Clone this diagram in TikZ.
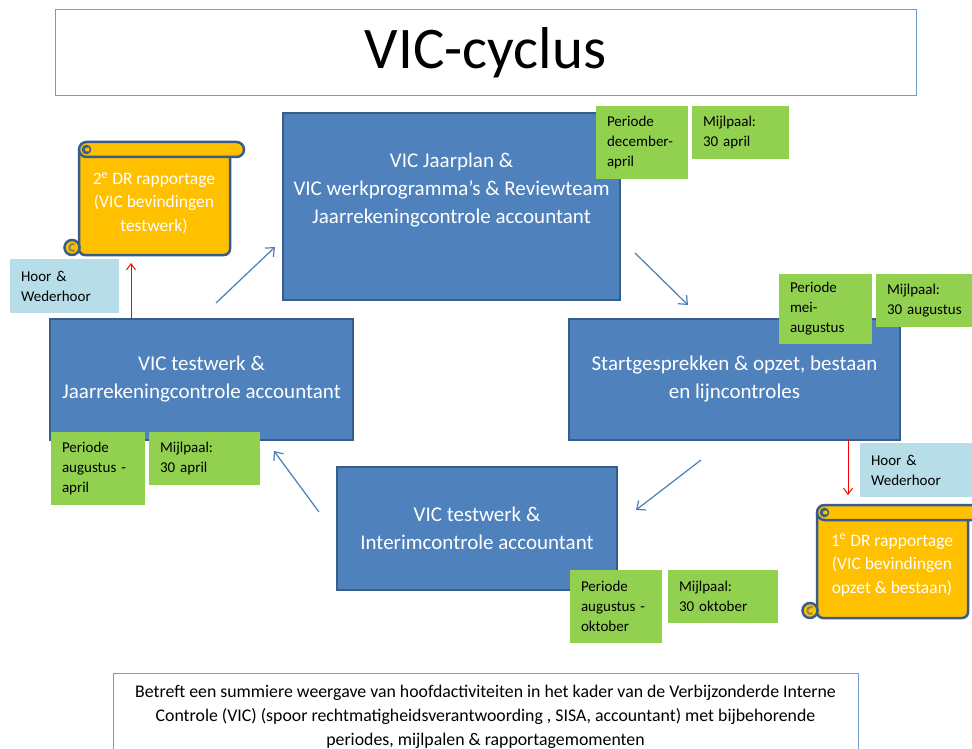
\documentclass[tikz,border=0pt]{standalone}
\usepackage{fontspec}
\setmainfont{Carlito}
\usepackage{tikz}
\usetikzlibrary{arrows.meta,positioning,calc}
\definecolor{blokblauw}{HTML}{4F81BD}
\definecolor{randblauw}{HTML}{385D8A}
\definecolor{pijlblauw}{HTML}{4A7EBB}
\definecolor{groen}{HTML}{92D050}
\definecolor{lichtblauw}{HTML}{B7DEE8}
\definecolor{oranje}{HTML}{FFC000}

\begin{document}
\begin{tikzpicture}
[x=1pt,y=-1pt,
every node/.style={inner sep=0pt,outer sep=0pt},
blok/.style={draw=randblauw,fill=blokblauw,line width=2.5pt,anchor=north west,text=white,align=center,font=\fontsize{21}{28}\selectfont},
groenvak/.style={fill=groen,anchor=north west,align=left,inner xsep=11pt,font=\fontsize{15}{20}\selectfont},
hoorvak/.style={fill=lichtblauw,anchor=north west,align=left,inner xsep=11pt,font=\fontsize{15}{20}\selectfont},
rolvak/.style={text=white,align=center,font=\fontsize{17.5}{23.5}\selectfont},
kader/.style={draw=blokblauw!80,line width=1pt,anchor=north west},
pijl/.style={draw=pijlblauw,line width=1.2pt,-{Straight Barb[length=7pt,width=12pt]}},
rood/.style={draw=red,line width=1pt,-{Straight Barb[length=6pt,width=9pt]}},
pics/rol/.style={code={
  \filldraw[fill=oranje,draw=randblauw,line width=2.5pt,rounded corners=6pt] (0,8) -- (0,113) -- (151,113) -- (151,15);
  \filldraw[fill=oranje,draw=randblauw,line width=2.5pt,rounded corners=7.5pt] (0,0) rectangle (165,15);
  \filldraw[fill=oranje,draw=randblauw,line width=1.5pt] (7.5,7.5) circle[radius=4pt];
  \draw[randblauw,line width=1.5pt] (9.5,5) arc[start angle=60,end angle=300,radius=3pt];
  \filldraw[fill=oranje,draw=randblauw,line width=2.5pt] (-7,105.5) circle[radius=7.5pt];
  \draw[randblauw!60!oranje,line width=2pt] (-4.5,102.5) arc[start angle=60,end angle=300,radius=3.5pt];
}}]
\clip (0,0) rectangle (972,749);
\fill[white] (0,0) rectangle (972,749);

% titel
\node[kader,minimum width=861pt,minimum height=86pt,font=\fontsize{59}{60}\selectfont] (titel) at (55,10) {VIC-cyclus};

% blokken van de cyclus
\node[blok,minimum width=337pt,minimum height=187pt] (jaarplan) at (283,113) {};
\node[rolvak,font=\fontsize{21}{28}\selectfont] (jaarplantekst) at ($(jaarplan.center)+(0,-16)$)
  {VIC Jaarplan \&\\VIC werkprogramma’s \& Reviewteam\\Jaarrekeningcontrole accountant};
\node[blok,minimum width=331pt,minimum height=121pt] (startgesprek) at (569,319)
  {Startgesprekken \& opzet, bestaan\\en lijncontroles};
\node[blok,minimum width=280pt,minimum height=123pt] (interim) at (337,467)
  {VIC testwerk \&\\Interimcontrole accountant};
\node[blok,minimum width=303pt,minimum height=121pt] (testwerk) at (50,319)
  {VIC testwerk \&\\Jaarrekeningcontrole accountant};

% periodes en mijlpalen
\node[groenvak,text width=70pt,minimum height=73pt] (periode1) at (596,106) {Periode\\december-\\april};
\node[groenvak,text width=75pt,minimum height=53pt] (mijlpaal1) at (692,106) {Mijlpaal:\\30 april};
\node[groenvak,text width=71pt,minimum height=70pt] (periode2) at (779,274) {Periode\\mei-\\augustus};
\node[groenvak,text width=80pt,minimum height=53pt] (mijlpaal2) at (876,274) {Mijlpaal:\\30 augustus};
\node[groenvak,text width=70pt,minimum height=73pt] (periode3) at (570,570) {Periode\\augustus -\\oktober};
\node[groenvak,text width=88pt,minimum height=53pt] (mijlpaal3) at (668,570) {Mijlpaal:\\30 oktober};
\node[groenvak,text width=72pt,minimum height=73pt] (periode4) at (51,432) {Periode\\augustus -\\april};
\node[groenvak,text width=89pt,minimum height=53pt] (mijlpaal4) at (149,432) {Mijlpaal:\\30 april};

% hoor en wederhoor
\node[hoorvak,text width=87pt,minimum height=54pt] (hoor2) at (10,259) {Hoor \&\\Wederhoor};
\node[hoorvak,text width=100pt,minimum height=54pt] (hoor1) at (860,443) {Hoor \&\\Wederhoor};

% rapportages
\pic at (79,142) {rol};
\node[rolvak] (rapport2) at (154,203) {2\textsuperscript{e} DR rapportage\\(VIC bevindingen\\testwerk)};
\pic at (817,505) {rol};
\node[rolvak] (rapport1) at (892,565) {1\textsuperscript{e} DR rapportage\\(VIC bevindingen\\opzet \& bestaan)};

% pijlen
\coordinate (p1) at (216,303);
\coordinate (p2) at (275,247);
\coordinate (p3) at (635,253);
\coordinate (p4) at (688,305);
\coordinate (p5) at (701,460);
\coordinate (p6) at (636,510);
\coordinate (p7) at (319,512);
\coordinate (p8) at (274,451);
\draw[pijl] (p1) -- (p2);
\draw[pijl] (p3) -- (p4);
\draw[pijl] (p5) -- (p6);
\draw[pijl] (p7) -- (p8);
\coordinate (r2) at (131,263);
\coordinate (r1) at (848,495);
\draw[rood] (testwerk.north -| r2) -- (r2);
\draw[rood] (startgesprek.south -| r1) -- (r1);

% toelichting
\node[kader,minimum width=745pt,minimum height=90pt] (toelichting) at (113,673) {};
\node[align=center,font=\fontsize{17.8}{24}\selectfont,anchor=north] (toelichtingtekst) at (485.5,685)
  {Betreft een summiere weergave van hoofdactiviteiten in het kader van de Verbijzonderde Interne\\
   Controle (VIC) (spoor rechtmatigheidsverantwoording , SISA, accountant) met bijbehorende\\
   periodes, mijlpalen \& rapportagemomenten};
\end{tikzpicture}
\end{document}
